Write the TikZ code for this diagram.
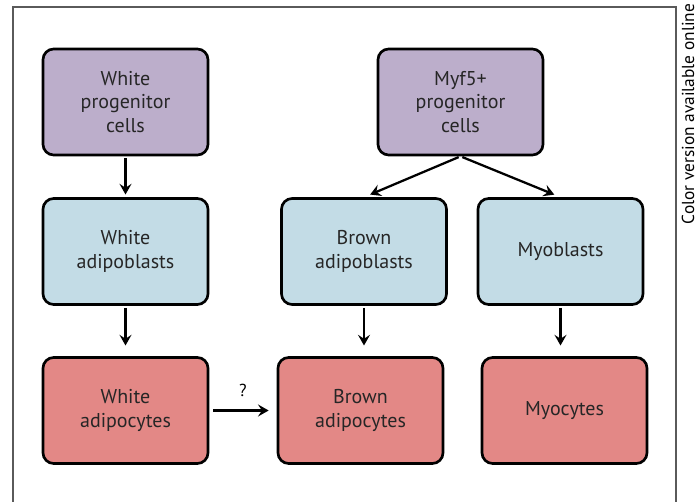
\documentclass[tikz,border=0pt]{standalone}
\usepackage{fontspec}
\setmainfont{PT Sans}
\usetikzlibrary{arrows.meta}

\definecolor{progcol}{RGB}{188,174,203}
\definecolor{blastcol}{RGB}{195,220,230}
\definecolor{cytecol}{RGB}{227,136,134}
\definecolor{framecol}{RGB}{90,90,90}

\tikzset{every picture/.style={line width=0.75pt}}
\tikzset{
  cellbox/.style={draw=black, line width=2pt, rounded corners=8pt, minimum width=123.75pt, minimum height=79.5pt, align=center, text=black!85, font=\fontsize{15}{17.5}\selectfont},
  conn/.style={-{Stealth[length=8pt,width=9pt,inset=3pt]}, line width=1.7pt},
}

\begin{document}
\begin{tikzpicture}[x=0.75pt,y=0.75pt,yscale=-1,xscale=1]
	\useasboundingbox (0,0) rectangle (697,502);

	%Frame
	\draw [color=framecol, line width=1.2pt]  (13,502) -- (13,7) -- (676,7) -- (676,502) ;
	% Text Node
	\node [rotate=90, font=\fontsize{13}{15}\selectfont] (note) at (688,114) {Color version available online};

	%Top row
	\node [cellbox, fill=progcol] (wprog) at (125.5,102) {White\\progenitor\\cells};
	\node [cellbox, fill=progcol] (mprog) at (460.5,102) {Myf5+\\progenitor\\cells};

	%Middle row
	\node [cellbox, fill=blastcol] (wblast) at (125.5,251.5) {White\\adipoblasts};
	\node [cellbox, fill=blastcol] (bblast) at (364,251.5) {Brown\\adipoblasts};
	\node [cellbox, fill=blastcol] (myob) at (560.5,251.5) {Myoblasts};

	%Bottom row
	\node [cellbox, fill=cytecol] (wcyte) at (125.5,410.5) {White\\adipocytes};
	\node [cellbox, fill=cytecol] (bcyte) at (360.5,410.5) {Brown\\adipocytes};
	\node [cellbox, fill=cytecol] (myoc) at (564.5,410.5) {Myocytes};

	%Arrows
	\draw [conn, shorten <=1.5pt, shorten >=2pt] (wprog) -- (wblast);
	\draw [conn, shorten <=1.5pt, shorten >=5pt] (mprog.south) -- (bblast.north);
	\draw [conn, shorten <=1.5pt, shorten >=5pt] (mprog.south) -- (myob.north);
	\draw [conn, shorten <=1.5pt, shorten >=8pt] (wblast) -- (wcyte);
	\draw [conn, shorten <=1.5pt, shorten >=8pt] (bblast.south) -- (bblast.south |- bcyte.north);
	\draw [conn, shorten <=1.5pt, shorten >=8pt] (myob.south) -- (myob.south |- myoc.north);
	\draw [conn, shorten <=3pt, shorten >=6pt] (wcyte) -- (bcyte) node [midway, above=6pt, font=\fontsize{13}{15}\selectfont] (q) {?};

\end{tikzpicture}
\end{document}
